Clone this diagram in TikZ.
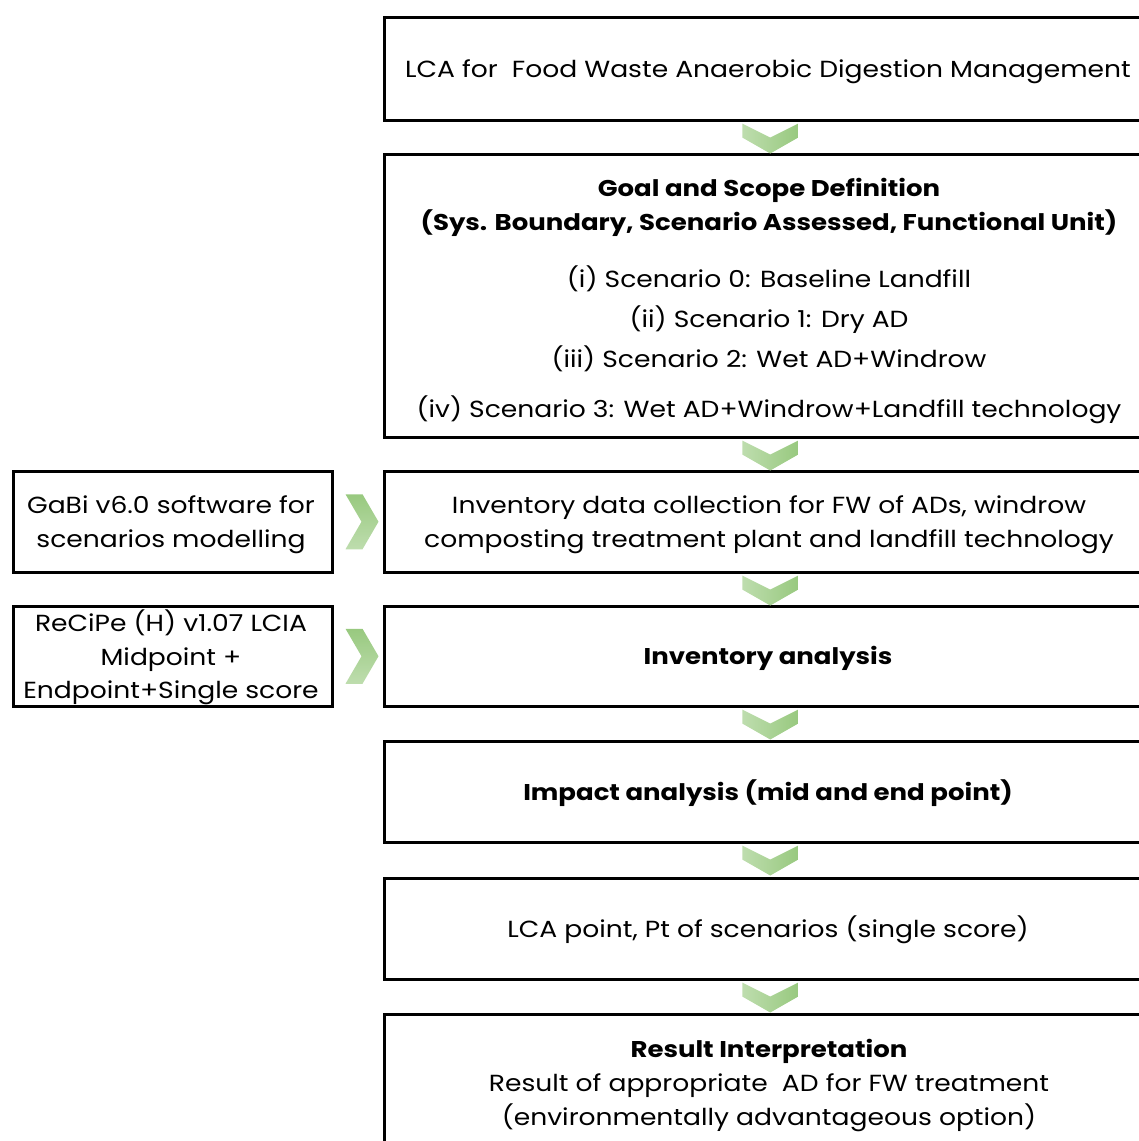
\documentclass[tikz,border=0pt]{standalone}
\usepackage{fontspec}
\setmainfont{Poppins}[FakeStretch=1.14]
\usetikzlibrary{calc}

\definecolor{chevlight}{HTML}{BEDDAE}
\definecolor{chevdark}{HTML}{98C97F}

\tikzset{
  x=1pt, y=-1pt,
  stagebox/.style={draw=black, line width=2.5pt, minimum width=770pt,
    inner sep=0pt, anchor=north west},
  toolbox/.style={draw=black, line width=2.5pt, minimum width=319pt,
    inner sep=0pt, anchor=north west},
  txt/.style={font=\fontsize{23.3}{27}\selectfont, inner sep=0pt, anchor=base},
  btxt/.style={font=\fontsize{22.8}{26}\selectfont\bfseries, inner sep=0pt, anchor=base},
}

% downward chevron hanging below the given anchor
\newcommand\downchev[1]{%
  \shade[left color=chevlight, right color=chevdark]
    ($(#1)+(-27,2)$) -- ++(28,14) -- ++(28,-14) -- ++(0,14)
    -- ++(-28,16) -- ++(-28,-16) -- cycle;}
% right-pointing chevron just right of the given anchor
\newcommand\rightchev[1]{%
  \shade[top color=chevdark, bottom color=chevlight]
    ($(#1)+(12,-27.5)$) -- ++(17,0) -- ++(16,27.5) -- ++(-16,27.5)
    -- ++(-17,0) -- ++(16,-27.5) -- cycle;}

\begin{document}
\begin{tikzpicture}
\clip (0,0) rectangle (1139,1141);

% main column of stages
\node[stagebox, minimum height=103pt] (b1) at (383,16) {};
\node[stagebox, minimum height=283pt] (b2) at (383,153) {};
\node[stagebox, minimum height=101pt] (b3) at (383,470) {};
\node[stagebox, minimum height=100pt] (b4) at (383,605) {};
\node[stagebox, minimum height=101pt] (b5) at (383,740) {};
\node[stagebox, minimum height=101pt] (b6) at (383,877) {};
\node[stagebox, minimum height=160pt] (b7) at (383,1013) {};

% tool boxes on the left
\node[toolbox, minimum height=101pt] (g) at (12,470) {};
\node[toolbox, minimum height=100pt] (r) at (12,605) {};

% texts
\node[txt]  (t1)  at (768,77)   {LCA for\ \ Food Waste Anaerobic Digestion Management};
\node[btxt] (t2a) at (769,196)  {Goal and Scope Definition};
\node[btxt] (t2b) at (769,230)  {(Sys. Boundary, Scenario Assessed, Functional Unit)};
\node[txt]  (t2c) at (769,287)  {(i) Scenario 0: Baseline Landfill};
\node[txt]  (t2d) at (769,327)  {(ii) Scenario 1: Dry AD};
\node[txt]  (t2e) at (769,367)  {(iii) Scenario 2: Wet AD+Windrow};
\node[txt]  (t2f) at (769,417)  {(iv) Scenario 3: Wet AD+Windrow+Landfill technology};
\node[txt]  (t3a) at (769,513)  {Inventory data collection for FW of ADs, windrow};
\node[txt]  (t3b) at (769,547)  {composting treatment plant and landfill technology};
\node[btxt] (t4)  at (768,664)  {Inventory analysis};
\node[btxt] (t5)  at (768,800)  {Impact analysis (mid and end point)};
\node[txt]  (t6)  at (768,937)  {LCA point, Pt of scenarios (single score)};
\node[btxt] (t7a) at (769,1057) {Result Interpretation};
\node[txt]  (t7b) at (769,1091) {Result of appropriate\ \ AD for FW treatment};
\node[txt]  (t7c) at (769,1125) {(environmentally advantageous option)};
\node[txt]  (tga) at (171,513)  {GaBi v6.0 software for};
\node[txt]  (tgb) at (171,547)  {scenarios modelling};
\node[txt]  (tra) at (171,631)  {ReCiPe (H) v1.07 LCIA};
\node[txt]  (trb) at (171,665)  {Midpoint +};
\node[txt]  (trc) at (171,698)  {Endpoint+Single score};

% flow chevrons
\downchev{b1.south}
\downchev{b2.south}
\downchev{b3.south}
\downchev{b4.south}
\downchev{b5.south}
\downchev{b6.south}
\rightchev{g.east}
\rightchev{r.east}
\end{tikzpicture}
\end{document}
